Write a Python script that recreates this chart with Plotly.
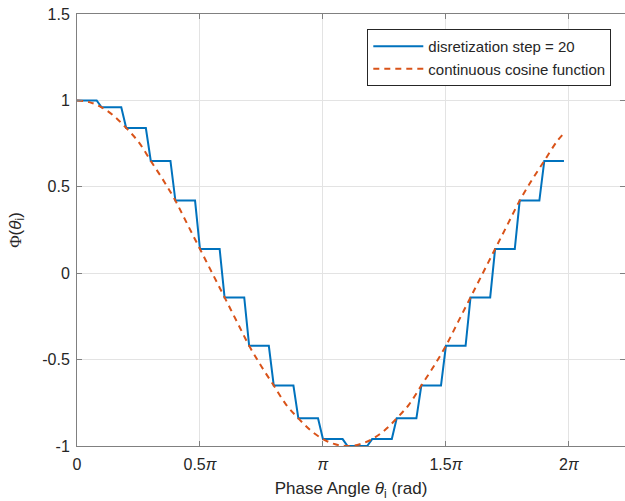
import math
import plotly.graph_objects as go

# Quantised phase response: one level per discretisation step
step_levels = [1.00, 0.96, 0.84, 0.65, 0.42, 0.14, -0.14, -0.42, -0.65, -0.84,
               -0.96, -1.00, -0.96, -0.84, -0.65, -0.42, -0.14, 0.14, 0.42, 0.65]
# Start / end of each step, in multiples of pi
step_start_pi = [0.00, 0.10, 0.20, 0.30, 0.40, 0.50, 0.60, 0.70, 0.80, 0.90,
                 1.00, 1.10, 1.20, 1.30, 1.40, 1.50, 1.60, 1.70, 1.80, 1.90]
step_end_pi = [0.08, 0.18, 0.28, 0.38, 0.48, 0.58, 0.68, 0.78, 0.88, 0.98,
               1.08, 1.18, 1.28, 1.38, 1.48, 1.58, 1.68, 1.78, 1.88, 1.98]

# Continuous cosine reference, sampled along the phase axis (multiples of pi)
cos_theta_pi = [0.00, 0.05, 0.10, 0.15, 0.20, 0.25, 0.30, 0.35, 0.40, 0.45,
                0.50, 0.55, 0.60, 0.65, 0.70, 0.75, 0.80, 0.85, 0.90, 0.95,
                1.00, 1.05, 1.10, 1.15, 1.20, 1.25, 1.30, 1.35, 1.40, 1.45,
                1.50, 1.55, 1.60, 1.65, 1.70, 1.75, 1.80, 1.85, 1.90, 1.95, 1.98]
cos_values = [1.00, 0.99, 0.96, 0.91, 0.84, 0.76, 0.65, 0.54, 0.42, 0.28,
              0.14, 0.00, -0.14, -0.28, -0.42, -0.54, -0.65, -0.76, -0.84, -0.91,
              -0.96, -0.99, -1.00, -0.99, -0.96, -0.91, -0.84, -0.76, -0.65, -0.54,
              -0.42, -0.28, -0.14, 0.00, 0.14, 0.28, 0.42, 0.54, 0.65, 0.76, 0.81]

x_tick_pi = [0, 0.5, 1, 1.5, 2]
x_tick_text = ["0", "0.5<i>π</i>", "<i>π</i>", "1.5<i>π</i>", "2<i>π</i>"]
y_tick_vals = [-1, -0.5, 0, 0.5, 1, 1.5]
y_tick_text = ["-1", "-0.5", "0", "0.5", "1", "1.5"]

stair_x, stair_y = [], []
for s, e, lv in zip(step_start_pi, step_end_pi, step_levels):
    stair_x += [s * math.pi, e * math.pi]
    stair_y += [lv, lv]

FONT = "Arial, Liberation Sans, Helvetica, sans-serif"
AXIS_COLOR = "#808080"
TEXT_COLOR = "#262626"
GRID_COLOR = "#e3e3e3"

fig = go.Figure()
fig.add_trace(go.Scatter(
    x=stair_x, y=stair_y, mode="lines",
    name="disretization step = 20",
    line=dict(color="#0072BD", width=2),
))
fig.add_trace(go.Scatter(
    x=[t * math.pi for t in cos_theta_pi], y=cos_values, mode="lines",
    name="continuous cosine function",
    line=dict(color="#D95319", width=2, dash="6px,5px", shape="spline"),
))

axis_common = dict(
    showline=True, linecolor=AXIS_COLOR, linewidth=1, mirror="ticks",
    ticks="inside", ticklen=5, tickcolor=AXIS_COLOR, tickwidth=1,
    showgrid=True, gridcolor=GRID_COLOR, gridwidth=1,
    zeroline=False,
    tickfont=dict(family=FONT, size=16, color=TEXT_COLOR),
)

fig.update_xaxes(
    range=[0, 7],
    tickmode="array",
    tickvals=[t * math.pi for t in x_tick_pi],
    ticktext=x_tick_text,
    ticklabelstandoff=4,
    title=dict(text="Phase Angle <i>θ</i><sub>i</sub> (rad)",
               font=dict(family=FONT, size=17, color=TEXT_COLOR), standoff=12),
    **axis_common,
)
fig.update_yaxes(
    range=[-1, 1.5],
    tickmode="array",
    tickvals=y_tick_vals,
    ticktext=y_tick_text,
    ticklabelstandoff=3,
    title=dict(text="<span style='font-family:Liberation Serif, serif'>Φ</span>(<i>θ</i><sub>i</sub>)",
               font=dict(family=FONT, size=17, color=TEXT_COLOR), standoff=16),
    **axis_common,
)

fig.update_layout(
    width=625, height=501,
    margin=dict(l=77, r=0, t=14, b=55),
    paper_bgcolor="white", plot_bgcolor="white",
    font=dict(family=FONT, color=TEXT_COLOR),
    showlegend=True,
    legend=dict(
        x=0.975, y=0.965, xanchor="right", yanchor="top",
        bgcolor="white", bordercolor="#262626", borderwidth=1,
        font=dict(family=FONT, size=15, color=TEXT_COLOR),
        itemwidth=50, tracegroupgap=0,
    ),
    hovermode=False,
)

fig.write_html("out.html")
